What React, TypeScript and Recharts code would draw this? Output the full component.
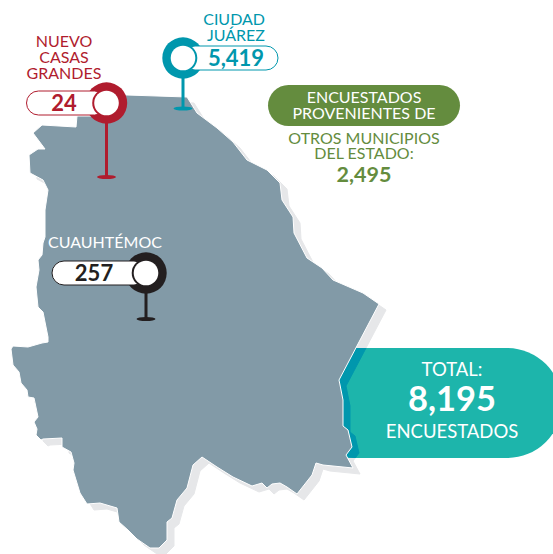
import { ScatterChart, Scatter, XAxis, YAxis } from "recharts";

const FONT = "Lato, sans-serif";
const MAP = "#829aa7";
const SHADOW = "#e6e7e9";
const TEAL = "#0097ad";
const TOTAL_BG = "#1db5ab";
const GREEN = "#648c3e";

// state outline (clockwise from the north edge)
const outlineX = [97, 127, 187, 197, 217, 233, 247, 267, 280, 282, 293, 294, 307, 322, 333, 363, 379, 339, 343, 343, 348, 352, 346, 353, 323, 316, 312, 297, 287, 280, 272, 267, 262, 252, 233, 217, 202, 193, 187, 177, 172, 167, 167, 159, 150, 137, 128, 119, 117, 100, 87, 80, 73, 74, 71, 62, 62, 43, 41, 36, 37, 34, 38, 34, 28, 27, 21, 19, 13, 11, 13, 28, 42, 48, 48, 43, 38, 36, 39, 38, 42, 43, 45, 45, 48, 43, 30, 29, 38, 45, 33, 42, 76, 77, 97];
const outlineY = [94, 95, 97, 113, 128, 142, 160, 170, 183, 200, 217, 233, 258, 268, 280, 293, 304, 380, 400, 426, 430, 447, 455, 468, 465, 463, 475, 494, 487, 483, 484, 488, 483, 486, 477, 467, 457, 465, 488, 500, 518, 522, 540, 548, 548, 539, 530, 522, 508, 503, 504, 493, 470, 463, 452, 447, 438, 439, 440, 435, 429, 422, 417, 398, 397, 390, 383, 372, 365, 349, 346, 347, 343, 342, 337, 312, 307, 287, 270, 260, 255, 243, 237, 210, 190, 180, 173, 155, 149, 149, 133, 125, 127, 116, 116];

const cityLabels = ["NUEVO CASAS GRANDES", "CIUDAD JUÁREZ", "CUAUHTÉMOC"];
const cityCounts = ["24", "5,419", "257"];
const cityX = [106.5, 183, 146];
const cityY = [177, 108.5, 319];

const otherMunicipios = "2,495";
const totalEncuestados = "8,195";

const outlinePoints = outlineX.map((x, i) => ({ x, y: outlineY[i] }));
const pinPoints = cityLabels.map((name, i) => ({ name, count: cityCounts[i], x: cityX[i], y: cityY[i] }));

const pinLook = [
  { color: "#b01c2e", stem: 74, pillFrom: -80, textX: -42.5 },
  { color: TEAL, stem: 50.5, pillFrom: 0, textX: 53 },
  { color: "#231f20", stem: 46, pillFrom: -94, textX: -52 },
];

function polygon(fill: string, stroke: string, dx: number, dy: number, clip?: string) {
  return (props: any) => {
    const d = props.points.map((p: any, i: number) => `${i ? "L" : "M"}${p.x + dx},${p.y + dy}`).join(" ") + " Z";
    return <path d={d} fill={fill} stroke={stroke} strokeWidth={1} strokeLinejoin="round" clipPath={clip} />;
  };
}

function Pin(props: any) {
  const { cx, cy, index, payload } = props;
  const look = pinLook[index];
  const headY = cy - look.stem;
  const pillW = index === 1 ? 95 : index === 0 ? 80 : 94;
  return (
    <g>
      <rect x={cx - 1.5} y={headY} width={3} height={look.stem} fill={look.color} />
      <ellipse cx={cx} cy={cy} rx={9.5} ry={2} fill={look.color} />
      <circle cx={cx} cy={headY} r={20.7} fill={look.color} />
      <rect x={cx + look.pillFrom} y={headY - 12} width={pillW} height={24} rx={12} fill="#fff" stroke={look.color} strokeWidth={1} />
      <circle cx={cx} cy={headY} r={14.3} fill={look.color} />
      <circle cx={cx} cy={headY} r={12.3} fill="#fff" />
      <text x={cx + look.textX} y={headY + 8} textAnchor="middle" fontFamily={FONT} fontWeight={700} fontSize={22} fill={look.color}>
        {payload.count}
      </text>
    </g>
  );
}

function CityLabels() {
  const common = { fontFamily: FONT, fontSize: 16 };
  return (
    <g>
      <g {...common} fill="#b01c2e" textAnchor="middle">
        <text x={64} y={47}>NUEVO</text>
        <text x={64} y={63}>CASAS</text>
        <text x={64} y={79}>GRANDES</text>
      </g>
      <g {...common} fill={TEAL} textAnchor="end">
        <text x={265} y={25}>CIUDAD</text>
        <text x={265} y={41}>JUÁREZ</text>
      </g>
      <text {...common} x={105} y={248} fill="#fff" textAnchor="middle">CUAUHTÉMOC</text>
    </g>
  );
}

function OtherBox(props: any) {
  const { cx } = props;
  const common = { fontFamily: FONT, fontSize: 16, textAnchor: "middle" as const };
  return (
    <g>
      <rect x={cx - 96} y={85} width={192} height={41} rx={20.5} fill={GREEN} />
      <text {...common} x={cx} y={103} fill="#fff">ENCUESTADOS</text>
      <text {...common} x={cx} y={119} fill="#fff">PROVENIENTES DE</text>
      <text {...common} x={cx} y={144} fill={GREEN}>OTROS MUNICIPIOS</text>
      <text {...common} x={cx} y={159} fill={GREEN}>DEL ESTADO:</text>
      <text {...common} x={cx} y={182} fontSize={21.5} fontWeight={700} fill={GREEN}>{otherMunicipios}</text>
    </g>
  );
}

function TotalBox() {
  return <rect x={300} y={348} width={262} height={110} rx={55} fill={TOTAL_BG} />;
}

function TotalText(props: any) {
  const { cx } = props;
  const common = { fontFamily: FONT, textAnchor: "middle" as const, fill: "#fff" };
  return (
    <g>
      <text {...common} x={cx} y={376} fontSize={18.5}>TOTAL:</text>
      <text {...common} x={cx} y={411} fontSize={34.5} fontWeight={700}>{totalEncuestados}</text>
      <text {...common} x={cx} y={438} fontSize={18.5}>ENCUESTADOS</text>
    </g>
  );
}

export default function App() {
  return (
    <div style={{ position: "absolute", left: 0, top: 0, background: "#fff" }}>
      <ScatterChart width={553} height={554} margin={{ top: 0, right: 0, bottom: 0, left: 0 }}>
        <defs>
          <clipPath id="totalClip">
            <rect x={300} y={348} width={262} height={110} rx={55} />
          </clipPath>
        </defs>
        <XAxis type="number" dataKey="x" domain={[0, 553]} hide />
        <YAxis type="number" dataKey="y" domain={[0, 554]} reversed hide />
        <Scatter data={outlinePoints} isAnimationActive={false} shape={() => <g />} line={polygon(SHADOW, SHADOW, 7, 6)} />
        <Scatter data={[{ x: 452, y: 403 }]} isAnimationActive={false} shape={TotalBox} />
        <Scatter data={outlinePoints} isAnimationActive={false} shape={() => <g />} line={polygon(TEAL, TEAL, 7, 6, "url(#totalClip)")} />
        <Scatter data={outlinePoints} isAnimationActive={false} shape={() => <g />} line={polygon(MAP, "#fff", 0, 0)} />
        <Scatter data={[{ x: 452, y: 403 }]} isAnimationActive={false} shape={TotalText} />
        <Scatter data={[{ x: 364, y: 105 }]} isAnimationActive={false} shape={OtherBox} />
        <Scatter data={pinPoints} isAnimationActive={false} shape={Pin} />
        <Scatter data={[{ x: 0, y: 0 }]} isAnimationActive={false} shape={CityLabels} />
      </ScatterChart>
    </div>
  );
}
